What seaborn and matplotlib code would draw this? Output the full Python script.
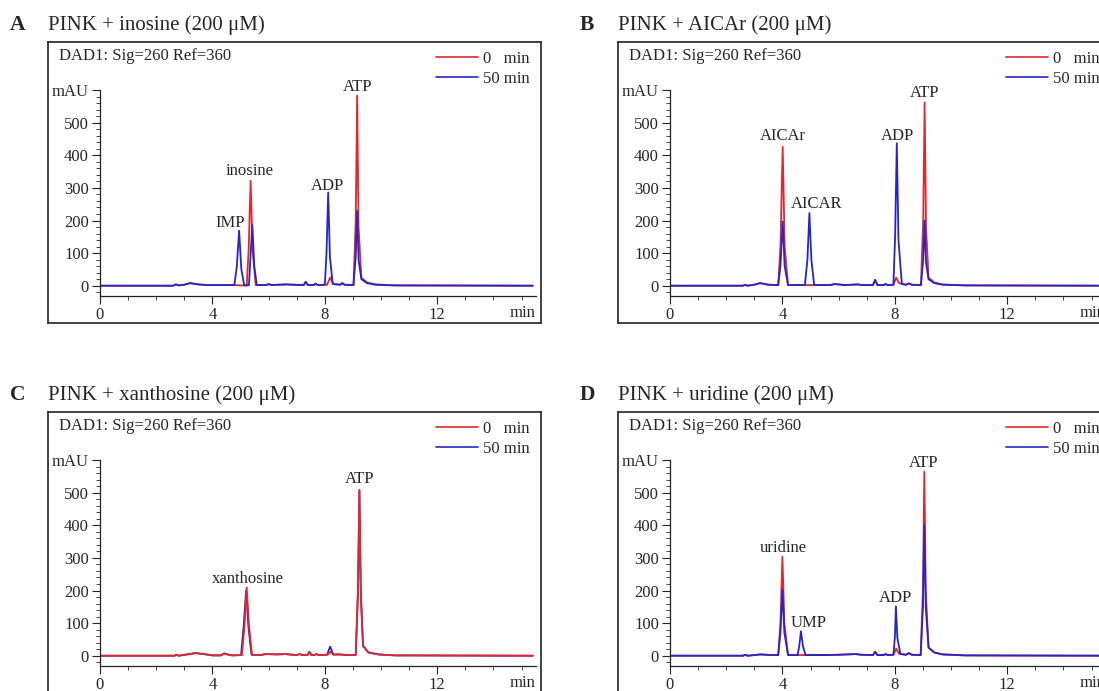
import matplotlib
matplotlib.use("Agg")
import matplotlib.pyplot as plt
from matplotlib.ticker import MultipleLocator, FixedLocator
import pandas as pd
import seaborn as sns

W, H = 1099, 691
RED = "#e3262e"
BLUE = "#2626c6"

letters = ["A", "B", "C", "D"]
titles = ["PINK + inosine (200 μM)", "PINK + AICAr (200 μM)",
          "PINK + xanthosine (200 μM)", "PINK + uridine (200 μM)"]
samples = ["0   min", "50 min"]

# chromatogram traces: (time in min, mAU)
a_red = [(0, 0), (2.6, 0), (2.7, 4), (2.8, 1), (3.0, 3), (3.2, 8), (3.5, 4), (3.8, 2),
         (4.8, 2), (5.22, 0), (5.29, 110), (5.36, 322), (5.43, 110), (5.54, 2), (5.9, 2),
         (6.0, 5), (6.1, 2), (6.6, 4), (7.25, 2), (7.32, 12), (7.4, 2), (7.6, 2), (7.67, 6),
         (7.75, 2), (8.08, 3), (8.19, 25), (8.3, 6), (8.55, 3), (8.62, 8), (8.7, 3), (9.02, 2),
         (9.1, 200), (9.15, 583), (9.2, 180), (9.3, 25), (9.5, 10), (9.8, 4), (10.5, 1), (15.4, 0)]
a_blue = [(0, 0), (2.6, 0), (2.7, 4), (2.8, 1), (3.0, 3), (3.2, 8), (3.5, 4), (3.8, 2),
          (4.78, 2), (4.87, 60), (4.95, 169), (5.03, 50), (5.13, 2), (5.3, 2), (5.35, 80),
          (5.42, 187), (5.49, 60), (5.58, 2), (5.9, 2), (6.0, 5), (6.1, 2), (6.6, 4), (7.25, 2),
          (7.32, 12), (7.4, 2), (7.6, 2), (7.67, 6), (7.75, 2), (8.0, 3), (8.06, 100), (8.12, 286),
          (8.18, 90), (8.28, 5), (8.55, 3), (8.62, 8), (8.7, 3), (9.02, 2), (9.1, 90), (9.15, 230),
          (9.2, 80), (9.3, 20), (9.5, 8), (9.8, 3), (10.5, 1), (15.4, 0)]

b_red = [(0, 0), (2.6, 0), (2.67, 3), (2.75, 0), (3.0, 3), (3.2, 8), (3.5, 3), (3.85, 2),
         (3.93, 120), (4.01, 426), (4.08, 120), (4.2, 2), (5.7, 2), (5.85, 5), (6.0, 4), (6.2, 2),
         (6.7, 4), (6.8, 2), (7.22, 2), (7.3, 18), (7.38, 2), (7.6, 2), (7.67, 5), (7.75, 2),
         (7.95, 3), (8.05, 25), (8.15, 8), (8.4, 3), (8.5, 7), (8.6, 3), (8.93, 2), (9.01, 200),
         (9.06, 562), (9.11, 180), (9.2, 25), (9.4, 10), (9.7, 4), (10.5, 1), (15.6, 0)]
b_blue = [(0, 0), (2.6, 0), (2.67, 3), (2.75, 0), (3.0, 3), (3.2, 8), (3.5, 3), (3.85, 2),
          (3.93, 60), (4.01, 197), (4.08, 60), (4.2, 2), (4.8, 2), (4.89, 80), (4.96, 223),
          (5.03, 80), (5.13, 2), (5.7, 2), (5.85, 5), (6.0, 4), (6.2, 2), (6.7, 4), (6.8, 2),
          (7.22, 2), (7.3, 18), (7.38, 2), (7.6, 2), (7.67, 5), (7.75, 2), (7.95, 3), (8.01, 150),
          (8.07, 437), (8.13, 140), (8.25, 5), (8.4, 3), (8.5, 7), (8.6, 3), (8.93, 2), (9.01, 80),
          (9.06, 200), (9.11, 70), (9.2, 20), (9.4, 8), (9.7, 3), (10.5, 1), (15.6, 0)]

c_red = [(0, 0), (2.65, 0), (2.72, 3), (2.8, 0), (3.1, 4), (3.4, 8), (3.7, 5), (4.0, 1),
         (4.3, 1), (4.42, 7), (4.55, 3), (4.7, 1), (5.05, 2), (5.14, 90), (5.22, 209), (5.3, 95),
         (5.41, 3), (5.7, 2), (5.9, 5), (6.3, 4), (6.6, 5), (7.0, 2), (7.1, 5), (7.2, 2), (7.38, 2),
         (7.45, 12), (7.52, 2), (7.62, 2), (7.7, 5), (7.78, 2), (8.1, 3), (8.2, 12), (8.3, 3),
         (8.5, 4), (8.8, 2), (9.1, 2), (9.18, 200), (9.23, 509), (9.28, 190), (9.36, 30),
         (9.55, 10), (9.9, 4), (10.5, 1), (15.4, 0)]
c_blue = [(0, 0), (2.65, 0), (2.72, 3), (2.8, 0), (3.1, 4), (3.4, 8), (3.7, 5), (4.0, 1),
          (4.3, 1), (4.42, 7), (4.55, 4), (4.7, 1), (5.02, 2), (5.11, 90), (5.2, 200), (5.28, 90),
          (5.39, 3), (5.7, 2), (5.9, 5), (6.3, 4), (6.6, 5), (7.0, 2), (7.1, 5), (7.2, 2), (7.38, 2),
          (7.45, 12), (7.52, 2), (7.62, 2), (7.7, 5), (7.78, 2), (8.08, 3), (8.19, 28), (8.3, 4),
          (8.5, 4), (8.8, 2), (9.1, 2), (9.18, 200), (9.23, 505), (9.28, 190), (9.36, 30),
          (9.55, 10), (9.9, 4), (10.5, 1), (15.4, 0)]

d_red = [(0, 0), (2.6, 0), (2.68, 3), (2.76, 0), (3.0, 2), (3.2, 4), (3.6, 2), (3.85, 2),
         (3.93, 100), (4.0, 304), (4.07, 100), (4.2, 2), (5.5, 2), (6.0, 3), (6.6, 5), (6.8, 3),
         (7.22, 2), (7.3, 12), (7.38, 2), (7.6, 2), (7.67, 5), (7.75, 2), (7.95, 3), (8.05, 22),
         (8.15, 6), (8.4, 3), (8.5, 8), (8.6, 3), (8.92, 2), (9.0, 200), (9.05, 565), (9.1, 200),
         (9.2, 25), (9.4, 10), (9.7, 4), (10.5, 1), (15.6, 0)]
d_blue = [(0, 0), (2.6, 0), (2.68, 3), (2.76, 0), (3.0, 2), (3.2, 4), (3.6, 2), (3.85, 2),
          (3.93, 70), (4.0, 203), (4.07, 70), (4.2, 2), (4.54, 2), (4.6, 30), (4.66, 75),
          (4.73, 30), (4.82, 2), (5.5, 2), (6.0, 3), (6.6, 5), (6.8, 3), (7.22, 2), (7.3, 12),
          (7.38, 2), (7.6, 2), (7.67, 5), (7.75, 2), (7.95, 3), (8.0, 55), (8.04, 151), (8.09, 55),
          (8.2, 5), (8.4, 3), (8.5, 8), (8.6, 3), (8.92, 2), (9.0, 150), (9.05, 402), (9.1, 150),
          (9.2, 25), (9.4, 10), (9.7, 4), (10.5, 1), (15.6, 0)]

# peak names and where they sit (min, mAU)
a_labels = [("IMP", 4.63, 193), ("inosine", 5.34, 353), ("ADP", 8.11, 307), ("ATP", 9.15, 611)]
b_labels = [("AICAr", 4.02, 458), ("AICAR", 5.23, 251), ("ADP", 8.08, 460), ("ATP", 9.05, 590)]
c_labels = [("xanthosine", 5.25, 236), ("ATP", 9.22, 541)]
d_labels = [("uridine", 4.02, 331), ("UMP", 4.95, 101), ("ADP", 8.04, 178), ("ATP", 9.02, 590)]

traces = [(a_red, a_blue), (b_red, b_blue), (c_red, c_blue), (d_red, d_blue)]
labels = [a_labels, b_labels, c_labels, d_labels]
red_on_top = [False, False, True, False]
offsets = [(0, 0), (570, 0), (0, 370), (570, 370)]

sns.set_style("ticks")
plt.rcParams["font.family"] = ["Liberation Serif", "DejaVu Serif"]
plt.rcParams["font.size"] = 12


def rect(l, t, w, h):
    return [l / W, 1 - (t + h) / H, w / W, h / H]


def to_df(red, blue):
    rows = [(samples[0], t, v) for t, v in red] + [(samples[1], t, v) for t, v in blue]
    return pd.DataFrame(rows, columns=["sample", "time", "mAU"])


fig = plt.figure(figsize=(W / 100, H / 100), dpi=100)

for i in range(4):
    dx, dy = offsets[i]

    # outer box
    fr = fig.add_axes(rect(48 + dx, 42 + dy, 493, 281))
    fr.set_xticks([])
    fr.set_yticks([])
    for s in fr.spines.values():
        s.set_linewidth(1.3)
        s.set_color("#333333")

    fig.text((10 + dx) / W, 1 - (25 + dy) / H, letters[i], fontsize=15.5,
             fontweight="bold", va="center", ha="left")
    fig.text((48 + dx) / W, 1 - (25 + dy) / H, titles[i], fontsize=15,
             va="center", ha="left")
    fig.text((59 + dx) / W, 1 - (56 + dy) / H, "DAD1: Sig=260 Ref=360",
             fontsize=12, va="center", ha="left")

    ax = fig.add_axes(rect(100 + dx, 90.1 + dy, 435.6, 205.4))
    ax.patch.set_alpha(0)
    df = to_df(*traces[i])
    order = samples[::-1] if red_on_top[i] else samples
    sns.lineplot(data=df, x="time", y="mAU", hue="sample", hue_order=order,
                 palette={samples[0]: RED, samples[1]: BLUE}, estimator=None,
                 sort=False, linewidth=1.3, ax=ax)

    lg = ax.get_legend()
    hmap = {t.get_text(): h for t, h in zip(lg.get_texts(), lg.legend_handles)}
    handles = [hmap[s] for s in samples]
    for h in handles:
        h.set_linewidth(1.2)
    ax.legend(handles, samples, loc="upper left",
              bbox_to_anchor=((436 + dx) / W, 1 - (51 + dy) / H),
              bbox_transform=fig.transFigure, frameon=False, fontsize=12,
              handlelength=2.5, handletextpad=0.3, labelspacing=0.22,
              borderpad=0, borderaxespad=0)

    ax.set_xlim(0, 15.5)
    ax.set_ylim(-30, 600)
    sns.despine(ax=ax)
    for s in ["left", "bottom"]:
        ax.spines[s].set_linewidth(0.9)
        ax.spines[s].set_color("#222222")
    ax.xaxis.set_major_locator(FixedLocator([0, 4, 8, 12]))
    ax.xaxis.set_minor_locator(MultipleLocator(1))
    ax.yaxis.set_major_locator(FixedLocator([0, 100, 200, 300, 400, 500, 600]))
    ax.yaxis.set_minor_locator(MultipleLocator(20))
    ax.set_yticklabels(["0", "100", "200", "300", "400", "500", "mAU"])
    ax.tick_params(which="major", length=5.5, width=0.8, color="#222222", labelsize=12)
    ax.tick_params(which="minor", length=3, width=0.7, color="#444444")
    ax.tick_params(axis="x", which="major", pad=2.5)
    ax.tick_params(axis="y", which="major", pad=2.5)
    ax.set_xlabel("")
    ax.set_ylabel("")
    ax.text(15.05, -0.085, "min", transform=ax.get_xaxis_transform(),
            ha="center", va="center", fontsize=12)

    for name, x, y in labels[i]:
        ax.text(x, y, name, ha="center", va="center", fontsize=12)

fig.savefig("out.png", dpi=100)
